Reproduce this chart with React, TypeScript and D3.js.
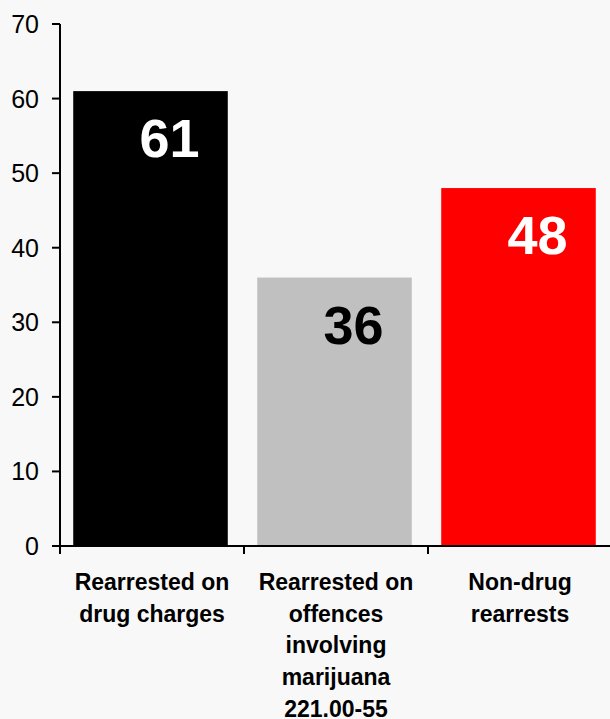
import React from "react";
import * as d3 from "d3";

const categories: string[][] = [
  ["Rearrested on", "drug charges"],
  ["Rearrested on", "offences", "involving", "marijuana", "221.00-55"],
  ["Non-drug", "rearrests"],
];
const values = [61, 36, 48];
const barColors = ["#000000", "#c0c0c0", "#ff0000"];
const labelColors = ["#ffffff", "#000000", "#ffffff"];
const yTicks = [0, 10, 20, 30, 40, 50, 60, 70];

const W = 610;
const H = 719;
const FONT = "'Liberation Sans', Arial, Helvetica, sans-serif";

export default function App() {
  const left = 60;
  const right = 612;
  const y0 = 546;
  const yTop = 24;
  const keys = categories.map((_, i) => String(i));
  const x = d3.scaleBand<string>().domain(keys).range([left, right]).paddingInner(0.16).paddingOuter(0.08);
  const y = d3.scaleLinear().domain([0, 70]).range([y0, yTop]);
  const step = x.step();
  const bw = x.bandwidth();

  return (
    <svg width={W} height={H} style={{ position: "absolute", left: 0, top: 0, display: "block" }} fontFamily={FONT}>
      <rect x={0} y={0} width={W} height={H} fill="#f8f8f8" />
      {values.map((v, i) => {
        const bx = (x(String(i)) as number) - 1.5;
        return (
          <g key={i}>
            <rect x={bx} y={y(v)} width={bw} height={y0 - y(v)} fill={barColors[i]} />
            <text
              x={bx + bw / 2 + 19}
              y={y(v) + 66}
              textAnchor="middle"
              fontSize={54}
              fontWeight="bold"
              fill={labelColors[i]}
            >
              {v}
            </text>
          </g>
        );
      })}
      {/* y axis */}
      <line x1={left} x2={left} y1={yTop} y2={y0} stroke="#000" strokeWidth={2} />
      {yTicks.map((t) => (
        <g key={t}>
          <line x1={52} x2={left} y1={y(t)} y2={y(t)} stroke="#000" strokeWidth={2} />
          <text x={39} y={y(t) + 9} textAnchor="end" fontSize={25} fill="#000">
            {t}
          </text>
        </g>
      ))}
      {/* x axis */}
      <line x1={left} x2={W} y1={y0} y2={y0} stroke="#000" strokeWidth={2} />
      {keys.map((k) => {
        const tx = (x(k) as number) - step * 0.08;
        return <line key={k} x1={tx} x2={tx} y1={y0} y2={y0 + 8} stroke="#000" strokeWidth={2} />;
      })}
      {categories.map((lines, i) => {
        const cx = (x(String(i)) as number) + bw / 2;
        return (
          <text key={i} textAnchor="middle" fontSize={23} fontWeight="bold" fill="#000">
            {lines.map((ln, j) => (
              <tspan key={j} x={cx} y={590 + j * 31.7}>
                {ln}
              </tspan>
            ))}
          </text>
        );
      })}
    </svg>
  );
}
